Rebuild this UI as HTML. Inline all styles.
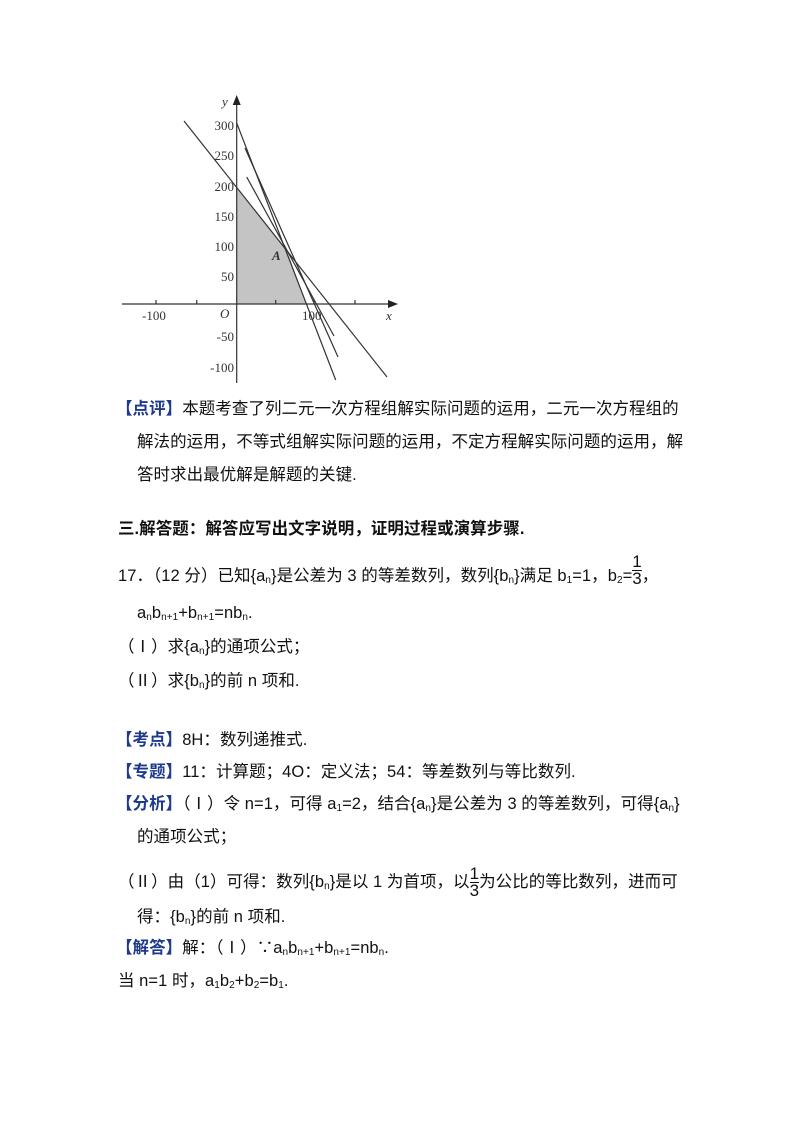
<!DOCTYPE html>
<html><head><meta charset="utf-8"><style>
body{margin:0;width:800px;height:1132px;background:#fff;position:relative;font-family:"Liberation Sans","Noto Sans CJK SC",sans-serif;font-size:16.5px;color:#111;overflow:hidden}
.l{position:absolute;white-space:nowrap;line-height:20px;letter-spacing:0.05px}
.t{color:#1e3a8a}
b.k{font-weight:bold}
sub{font-size:10px;vertical-align:-2px}
.fr{display:inline-block;vertical-align:middle;text-align:center;line-height:16px;font-size:17px}
.fr span{display:block}
.fr span:first-child{border-bottom:1px solid #111}
</style></head><body>
<svg style="position:absolute;left:0;top:0" width="800" height="400" font-family="Liberation Serif,serif" font-size="13">
<polygon points="236.7,304 236.7,186.7 286.7,250 306.7,304" fill="#c4c4c4"/>
<g stroke="#333" stroke-width="1.2" fill="none">
<line x1="122" y1="304" x2="390" y2="304"/>
<line x1="236.7" y1="383" x2="236.7" y2="100"/>
<line x1="184" y1="121" x2="387" y2="377"/>
<line x1="236.7" y1="123" x2="335.7" y2="380"/>
<line x1="245" y1="148" x2="338" y2="357"/>
<line x1="246.7" y1="177" x2="334" y2="336"/>
<line x1="156" y1="304" x2="156" y2="300"/><line x1="196.7" y1="304" x2="196.7" y2="300"/>
<line x1="275.7" y1="304" x2="275.7" y2="300"/><line x1="314" y1="304" x2="314" y2="300"/><line x1="355" y1="304" x2="355" y2="300"/>
</g>
<polygon points="398,304 388,300 388,308" fill="#222"/>
<polygon points="236.7,95 232.7,105 240.7,105" fill="#222"/>
<g fill="#333" text-anchor="end">
<text x="234" y="130">300</text><text x="234" y="160">250</text><text x="234" y="191">200</text>
<text x="234" y="221">150</text><text x="234" y="251">100</text><text x="234" y="281">50</text>
<text x="234" y="341">-50</text><text x="234" y="372">-100</text>
</g>
<g fill="#333" font-style="italic">
<text x="222" y="106">y</text><text x="386" y="320">x</text><text x="220" y="318">O</text><text x="272" y="260" font-weight="bold">A</text>
</g>
<text x="142" y="320" fill="#333">-100</text><text x="302" y="320" fill="#333">100</text>
</svg>
<div class="l" style="left:116px;top:399px"><b class="k t">【点评】</b>本题考查了列二元一次方程组解实际问题的运用，二元一次方程组的</div>
<div class="l" style="left:137px;top:432px">解法的运用，不等式组解实际问题的运用，不定方程解实际问题的运用，解</div>
<div class="l" style="left:137px;top:465px">答时求出最优解是解题的关键.</div>
<div class="l" style="left:118px;top:519px;font-weight:bold">三.解答题：解答应写出文字说明，证明过程或演算步骤.</div>
<div class="l" style="left:118px;top:566px">17．（12 分）已知{a<sub>n</sub>}是公差为 3 的等差数列，数列{b<sub>n</sub>}满足 b<sub>1</sub>=1，b<sub>2</sub>=<span class="fr" style="margin-top:-12px"><span>1</span><span>3</span></span>，</div>
<div class="l" style="left:137px;top:603px">a<sub>n</sub>b<sub>n+1</sub>+b<sub>n+1</sub>=nb<sub>n</sub>.</div>
<div class="l" style="left:118px;top:637px">（Ⅰ）求{a<sub>n</sub>}的通项公式；</div>
<div class="l" style="left:118px;top:671px">（Ⅱ）求{b<sub>n</sub>}的前 n 项和.</div>
<div class="l" style="left:116px;top:730px"><b class="k t">【考点】</b>8H：数列递推式.</div>
<div class="l" style="left:116px;top:762px"><b class="k t">【专题】</b>11：计算题；4O：定义法；54：等差数列与等比数列.</div>
<div class="l" style="left:116px;top:794px"><b class="k t">【分析】</b>（Ⅰ）令 n=1，可得 a<sub>1</sub>=2，结合{a<sub>n</sub>}是公差为 3 的等差数列，可得{a<sub>n</sub>}</div>
<div class="l" style="left:137px;top:827px">的通项公式；</div>
<div class="l" style="left:118px;top:866px">（Ⅱ）由（1）可得：数列{b<sub>n</sub>}是以 1 为首项，以<span class="fr"><span>1</span><span>3</span></span>为公比的等比数列，进而可</div>
<div class="l" style="left:137px;top:907px">得：{b<sub>n</sub>}的前 n 项和.</div>
<div class="l" style="left:116px;top:938px"><b class="k t">【解答】</b>解：（Ⅰ）∵a<sub>n</sub>b<sub>n+1</sub>+b<sub>n+1</sub>=nb<sub>n</sub>.</div>
<div class="l" style="left:118px;top:971px">当 n=1 时，a<sub>1</sub>b<sub>2</sub>+b<sub>2</sub>=b<sub>1</sub>.</div>
</body></html>
